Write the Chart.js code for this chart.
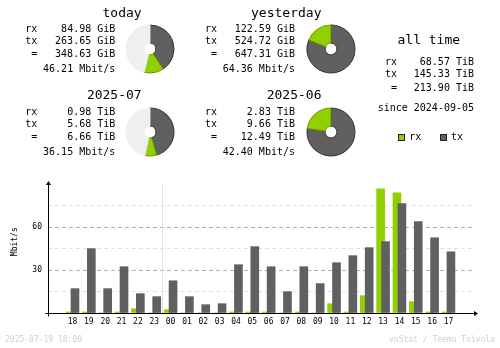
<!DOCTYPE html>
<html lang="en">
<head>
  <meta charset="UTF-8" />
  <title>vnStat summary</title>
  <script src="https://cdn.jsdelivr.net/npm/chart.js"></script>
  <style>
    body {
      margin: 0;
      background: #fff;
    }

    #wrap {
      position: relative;
      width: 500px;
      height: 348px;
      overflow: hidden;
      font-family: 'DejaVu Sans Mono', monospace;
      color: #000;
    }

    #wrap canvas {
      position: absolute;
    }

    .t {
      position: absolute;
      white-space: pre;
      line-height: 1;
      font-size: 10px;
    }

    .big { font-size: 13px; }
    .foot { font-size: 8px; color: #d0d0d0; }

    .key {
      position: absolute;
      width: 5px;
      height: 5px;
      border: 1px solid #222;
    }
  </style>
</head>
<body>
  <div id="wrap">
    <canvas id="hourly" width="500" height="348" style="left:0;top:0"></canvas>
  </div>

  <script>
    // hourly average rate, Mbit/s, from 18:00 yesterday to 17:00 today
    const hours = ['18', '19', '20', '21', '22', '23', '00', '01', '02', '03', '04', '05',
                   '06', '07', '08', '09', '10', '11', '12', '13', '14', '15', '16', '17'];
    const rxRate = [0.7, 0.7, 0, 0.7, 3.0, 0, 2.3, 0, 0, 0, 0.7, 0.7,
                    0.7, 0, 0.7, 0, 6.5, 0.7, 12.1, 86.7, 83.9, 7.9, 0.7, 0.7];
    const txRate = [17.0, 44.9, 17.0, 32.3, 13.5, 11.4, 22.5, 11.4, 5.8, 6.5, 33.7, 46.3,
                    32.3, 14.9, 32.3, 20.5, 35.1, 40.0, 45.6, 49.8, 76.3, 63.7, 52.5, 42.7];
    const rateTicks = [30, 60];

    // period totals
    const periods = ['today', 'yesterday', '2025-07', '2025-06'];
    const rxTotal = [84.98, 122.59, 0.98, 2.83];
    const txTotal = [263.65, 524.72, 5.68, 9.66];
    const sumTotal = [348.63, 647.31, 6.66, 12.49];
    const units = ['GiB', 'GiB', 'TiB', 'TiB'];
    const avgRate = [46.21, 64.36, 36.15, 42.40];
    // running periods are scaled against the finished period next to them
    const refPeriod = [1, 1, 3, 3];

    const allTime = { rx: 68.57, tx: 145.33, sum: 213.90, unit: 'TiB', since: '2024-09-05' };

    const RX = '#92cf00', TX = '#606060';
    const RX_EDGE = '#6a9800', TX_EDGE = '#333333', EMPTY = '#efefef';

    const wrap = document.getElementById('wrap');

    function put(txt, x, y, align, cls) {
      const d = document.createElement('div');
      d.className = 't' + (cls ? ' ' + cls : '');
      d.textContent = txt;
      d.style.left = x + 'px';
      d.style.top = y + 'px';
      const tx = align === 'right' ? '-100%' : align === 'center' ? '-50%' : '0';
      d.style.transform = `translate(${tx}, -50%)`;
      wrap.appendChild(d);
    }

    // --- summary panels -------------------------------------------------
    const cols = [
      { label: 25.3, value: 115.3, title: 141.7, donut: 150 },
      { label: 205, value: 295, title: 321.5, donut: 330.7 }
    ];
    const blockTop = [11.7, 94.3];
    const rowOffset = [17.6, 29.6, 42.6, 57.3];

    periods.forEach((name, i) => {
      const c = cols[i % 2];
      const top = blockTop[Math.floor(i / 2)];
      put(name, c.title, top, 'right', 'big');
      put('rx', c.label, top + rowOffset[0], 'left');
      put('tx', c.label, top + rowOffset[1], 'left');
      put(' =', c.label, top + rowOffset[2], 'left');
      put(rxTotal[i].toFixed(2) + ' ' + units[i], c.value, top + rowOffset[0], 'right');
      put(txTotal[i].toFixed(2) + ' ' + units[i], c.value, top + rowOffset[1], 'right');
      put(sumTotal[i].toFixed(2) + ' ' + units[i], c.value, top + rowOffset[2], 'right');
      put(avgRate[i].toFixed(2) + ' Mbit/s', c.value, top + rowOffset[3], 'right');

      // donut: tx first from 12 o'clock, then rx, then what is left
      const base = Math.max(sumTotal[i], sumTotal[refPeriod[i]]);
      const cv = document.createElement('canvas');
      cv.width = 50;
      cv.height = 50;
      cv.style.left = (c.donut - 25) + 'px';
      cv.style.top = (top + 37.5 - 25) + 'px';
      wrap.appendChild(cv);
      new Chart(cv, {
        type: 'doughnut',
        data: {
          labels: ['tx', 'rx', ''],
          datasets: [{
            data: [txTotal[i], rxTotal[i], base - sumTotal[i]],
            backgroundColor: [TX, RX, EMPTY],
            borderColor: [TX_EDGE, RX_EDGE, EMPTY],
            borderWidth: 1
          }]
        },
        options: {
          responsive: false,
          devicePixelRatio: 1,
          animation: false,
          events: [],
          radius: 24,
          cutout: 6,
          plugins: { legend: { display: false }, tooltip: { enabled: false } }
        }
      });
    });

    // all time block
    put('all time', 428.8, 39.3, 'center', 'big');
    put('rx', 385, 62, 'left');
    put('tx', 385, 74, 'left');
    put(' =', 385, 88.3, 'left');
    put(allTime.rx.toFixed(2) + ' ' + allTime.unit, 474, 62, 'right');
    put(allTime.tx.toFixed(2) + ' ' + allTime.unit, 474, 74, 'right');
    put(allTime.sum.toFixed(2) + ' ' + allTime.unit, 474, 88.3, 'right');
    put('since ' + allTime.since, 474, 108, 'right');

    // legend keys
    [[398.3, RX, 'rx'], [440, TX, 'tx']].forEach(([x, col, txt]) => {
      const k = document.createElement('div');
      k.className = 'key';
      k.style.left = x + 'px';
      k.style.top = '133.5px';
      k.style.background = col;
      wrap.appendChild(k);
      put(txt, x + 11, 137, 'left');
    });

    put('2025-07-19 18:00', 5, 340, 'left', 'foot');
    put('vnStat / Teemu Toivola', 495, 340, 'right', 'foot');

    // --- hourly bars ----------------------------------------------------
    const dayBreak = hours.indexOf('00') - 0.5;

    const axisDecor = {
      id: 'axisDecor',
      beforeDatasetsDraw(chart) {
        const { ctx, chartArea, scales: { x } } = chart;
        const xb = Math.round(x.getPixelForValue(dayBreak)) + 0.5;
        ctx.save();
        ctx.strokeStyle = '#e0e0e0';
        ctx.lineWidth = 1;
        ctx.beginPath();
        ctx.moveTo(xb, chartArea.top);
        ctx.lineTo(xb, chartArea.bottom);
        ctx.stroke();
        ctx.restore();
      },
      afterDatasetsDraw(chart) {
        const { ctx, chartArea: a } = chart;
        const ax = Math.round(a.left) + 0.5;
        const ay = Math.round(a.bottom) + 0.5;
        ctx.save();
        ctx.strokeStyle = '#000';
        ctx.fillStyle = '#000';
        ctx.lineWidth = 1;
        ctx.beginPath();
        ctx.moveTo(ax, a.top - 2);
        ctx.lineTo(ax, ay + 3);
        ctx.moveTo(ax - 3, ay);
        ctx.lineTo(a.right + 3, ay);
        ctx.stroke();
        // arrow heads
        ctx.beginPath();
        ctx.moveTo(ax - 2.5, a.top + 1);
        ctx.lineTo(ax + 2.5, a.top + 1);
        ctx.lineTo(ax, a.top - 3);
        ctx.closePath();
        ctx.fill();
        ctx.beginPath();
        ctx.moveTo(a.right + 1, ay - 2.5);
        ctx.lineTo(a.right + 1, ay + 2.5);
        ctx.lineTo(a.right + 5, ay);
        ctx.closePath();
        ctx.fill();
        // unit label
        ctx.translate(15, 241.7);
        ctx.rotate(-Math.PI / 2);
        ctx.font = "8px 'DejaVu Sans Mono'";
        ctx.textAlign = 'center';
        ctx.textBaseline = 'middle';
        ctx.fillText('Mbit/s', 0, 0);
        ctx.restore();
      }
    };

    new Chart(document.getElementById('hourly'), {
      type: 'bar',
      data: {
        datasets: [
          {
            label: 'rx',
            data: rxRate.map((v, i) => ({ x: i - 0.15, y: v })),
            backgroundColor: RX,
            barThickness: 8,
            grouped: false,
            order: 1
          },
          {
            label: 'tx',
            data: txRate.map((v, i) => ({ x: i + 0.15, y: v })),
            backgroundColor: TX,
            barThickness: 8,
            grouped: false,
            order: 0
          }
        ]
      },
      options: {
        responsive: false,
        devicePixelRatio: 1,
        animation: false,
        events: [],
        layout: { padding: { top: 184, right: 27, left: 0, bottom: 0 } },
        plugins: { legend: { display: false }, tooltip: { enabled: false } },
        scales: {
          x: {
            type: 'linear',
            min: -1,
            max: 24,
            grid: { display: false, drawTicks: false },
            border: { display: false },
            afterFit(s) { s.height = 35; },
            ticks: {
              stepSize: 1,
              autoSkip: false,
              maxRotation: 0,
              padding: 4,
              color: '#000',
              font: { family: 'DejaVu Sans Mono', size: 8 },
              callback: v => hours[v] || ''
            }
          },
          y: {
            min: 0,
            max: 90,
            afterFit(s) { s.width = 48; },
            border: { display: false, dash: [4, 3] },
            grid: {
              drawTicks: false,
              color: ctx => {
                const v = ctx.tick.value;
                if (v <= 0 || v >= 90) return 'rgba(0,0,0,0)';
                return v % 30 === 0 ? '#b0b0b0' : '#e0e0e0';
              }
            },
            ticks: {
              stepSize: 15,
              padding: 6,
              color: '#000',
              font: { family: 'DejaVu Sans Mono', size: 8 },
              callback: v => rateTicks.includes(v) ? v : ''
            }
          }
        }
      },
      plugins: [axisDecor]
    });
  </script>
</body>
</html>
